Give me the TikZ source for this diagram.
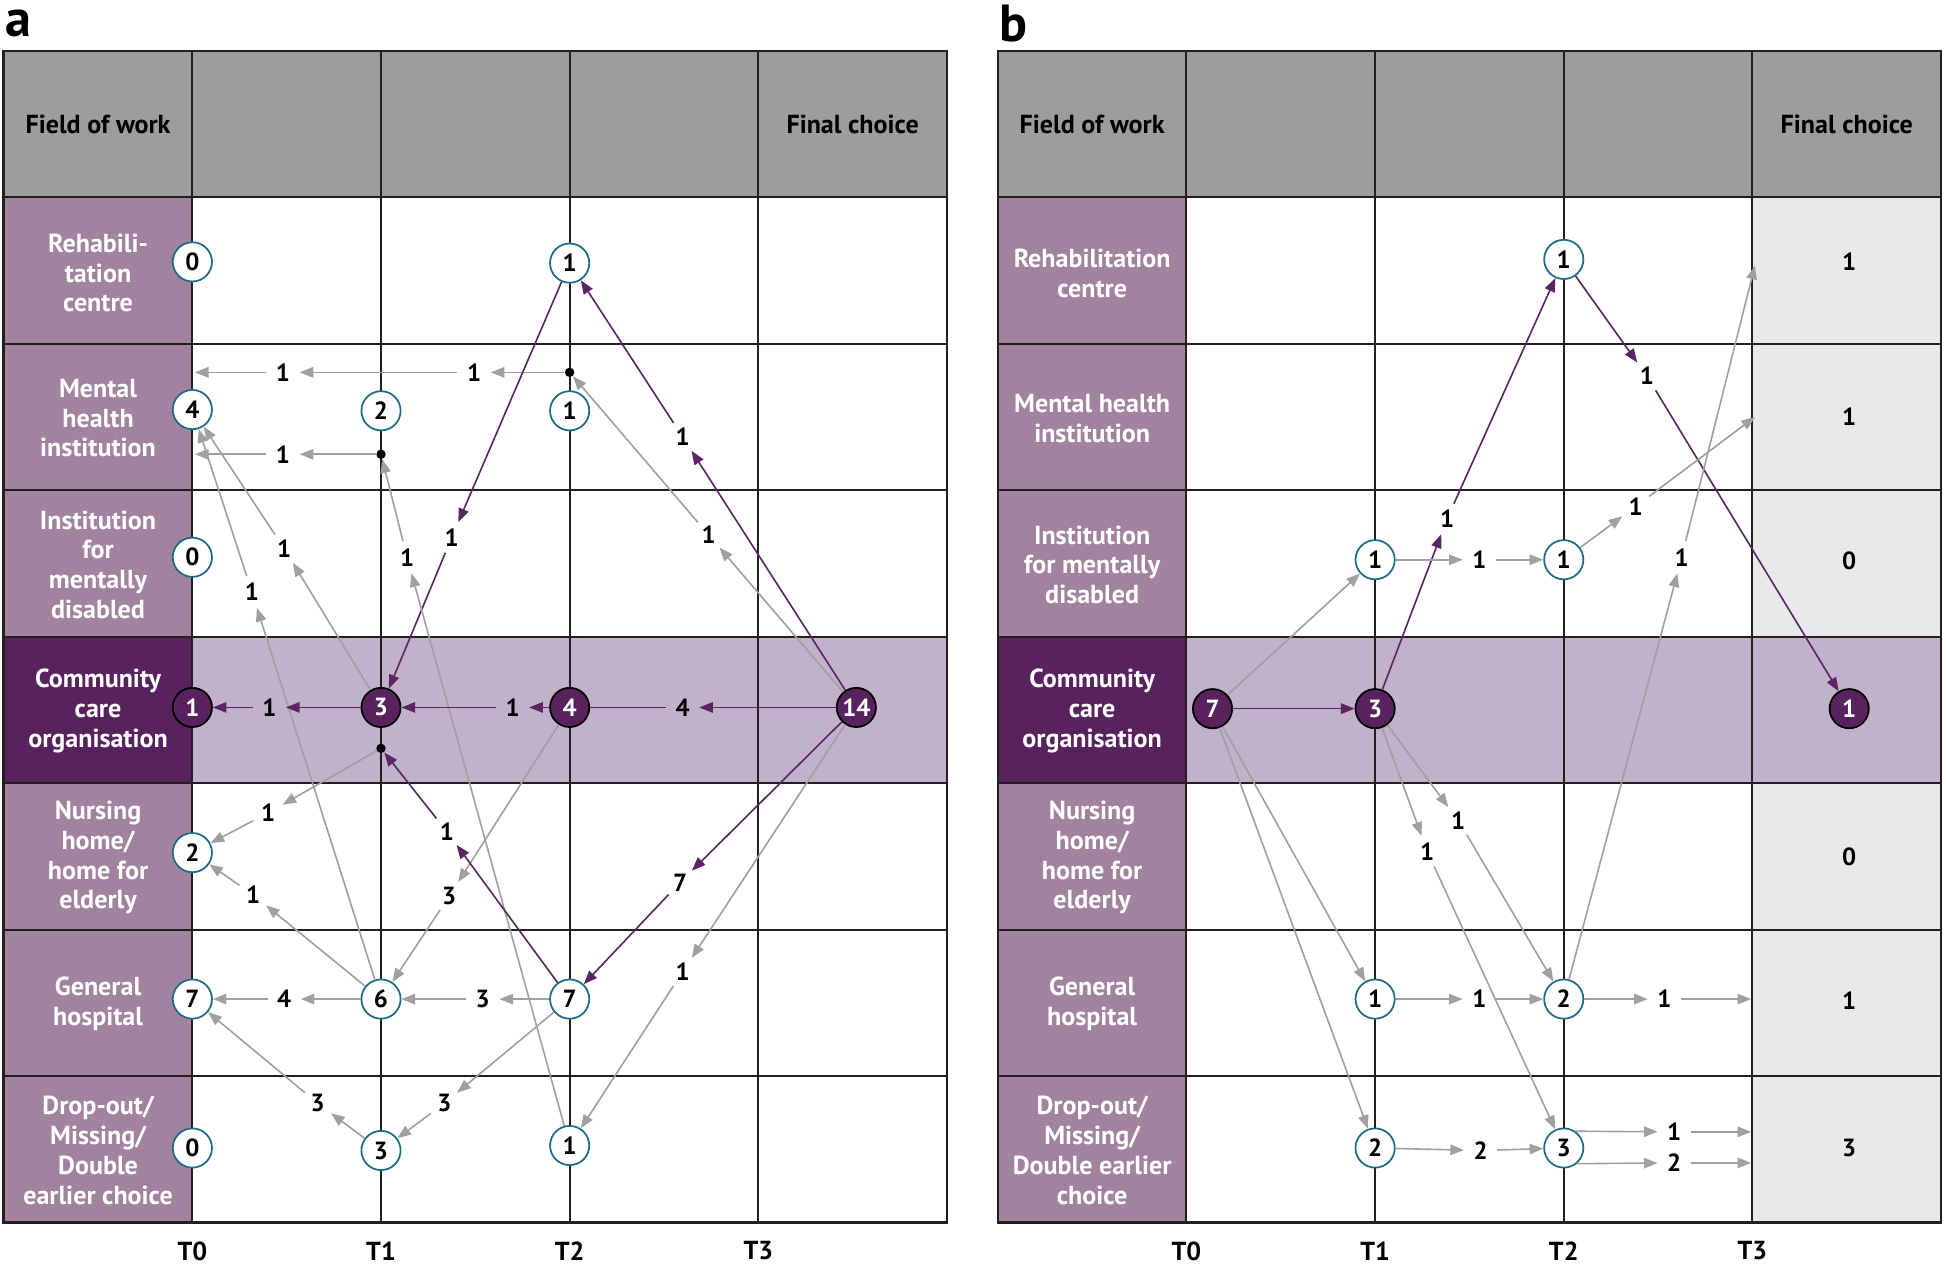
\documentclass[tikz,border=0pt]{standalone}
\usepackage{fontspec}
\setmainfont{PT Sans}
\usetikzlibrary{arrows.meta}
\definecolor{hdrc}{HTML}{9D9D9E}
\definecolor{mauvec}{HTML}{A1829F}
\definecolor{darkc}{HTML}{57225D}
\definecolor{lightpc}{HTML}{C1B1CA}
\definecolor{lgreyc}{HTML}{E9E9EC}
\definecolor{tealc}{HTML}{1C6C88}
\definecolor{greyc}{HTML}{A0A0A0}
\definecolor{purpc}{HTML}{5B2464}
\definecolor{gridc}{HTML}{231F20}
\newcommand\myrowfont{\fontsize{10.5}{12}\selectfont\bfseries}
\newcommand\mynumfont{\fontsize{10}{11}\selectfont\bfseries}
\begin{document}
\begin{tikzpicture}[x=0.5pt,y=-0.5pt,
  wn/.style={circle,draw=tealc,line width=0.7pt,fill=white,minimum size=15.8pt,inner sep=0pt,font=\mynumfont},
  dn/.style={circle,draw=black,line width=0.7pt,fill=darkc,text=white,minimum size=15.8pt,inner sep=0pt,font=\mynumfont},
  lab/.style={circle,minimum size=13pt,inner sep=0pt,font=\mynumfont},
  fin/.style={inner sep=0pt,font=\mynumfont},
  jn/.style={circle,fill=black,minimum size=3.8pt,inner sep=0pt},
  ga/.style={draw=greyc,line width=0.65pt,-{Triangle[length=5.5pt,width=4.2pt]}},
  pa/.style={draw=purpc,line width=0.65pt,-{Triangle[length=5.5pt,width=4.2pt]}},
  pl/.style={draw=purpc,line width=0.65pt},
  rowlab/.style={text=white,align=center,font=\myrowfont,inner sep=0pt},
  hdrlab/.style={text=black,align=center,font=\myrowfont,inner sep=0pt},
  axlab/.style={text=black,font=\myrowfont,inner sep=0pt},
  panlab/.style={text=black,font=\fontsize{21}{24}\selectfont\bfseries,inner sep=0pt},
  gridline/.style={draw=gridc,line width=0.8pt}
]
\useasboundingbox (0,0) rectangle (1568,1018.5);

% ---------------- Panel a background ----------------
\fill[hdrc] (3,41) rectangle (763,159);
\fill[mauvec] (3,159) rectangle (155,985);
\fill[darkc] (3,513) rectangle (155,631);
\fill[lightpc] (155,513) rectangle (763,631);
\foreach \y in {159,277,395,513,631,749,867} \draw[gridline] (3,\y) -- (763,\y);
\foreach \x in {155,307,459,611} \draw[gridline] (\x,41) -- (\x,985);
\draw[gridline,line width=1pt] (3,41) rectangle (763,985);

% ---------------- Panel b background ----------------
\fill[hdrc] (804,41) rectangle (1564,159);
\fill[mauvec] (804,159) rectangle (956,985);
\fill[lgreyc] (1412,159) rectangle (1564,985);
\fill[darkc] (804,513) rectangle (956,631);
\fill[lightpc] (956,513) rectangle (1564,631);
\foreach \y in {159,277,395,513,631,749,867} \draw[gridline] (804,\y) -- (1564,\y);
\foreach \x in {956,1108,1260,1412} \draw[gridline] (\x,41) -- (\x,985);
\draw[gridline,line width=1pt] (804,41) rectangle (1564,985);

% ---------------- panel letters, headers, axes ----------------
\node[panlab] (pa) at (15,19) {a};
\node[panlab] (pb) at (817,19) {b};
\node[hdrlab] (ha1) at (79,100) {Field of work};
\node[hdrlab] (ha2) at (687,100) {Final choice};
\node[hdrlab] (hb1) at (880,100) {Field of work};
\node[hdrlab] (hb2) at (1488,100) {Final choice};
\foreach \t/\x in {0/155,1/307,2/459,3/611} \node[axlab] (axa\t) at (\x,1008) {T\t};
\foreach \t/\x in {0/956,1/1108,2/1260,3/1412} \node[axlab] (axb\t) at (\x,1008) {T\t};

% ---------------- row labels ----------------
\node[rowlab] (ra1) at (79,220) {Rehabili-\\tation\\centre};
\node[rowlab] (ra2) at (79,337) {Mental\\health\\institution};
\node[rowlab] (ra3) at (79,455) {Institution\\for\\mentally\\disabled};
\node[rowlab] (ra4) at (79,573) {Community\\care\\organisation};
\node[rowlab] (ra5) at (79,691) {Nursing\\home/\\home for\\elderly};
\node[rowlab] (ra6) at (79,809) {General\\hospital};
\node[rowlab] (ra7) at (79,927) {Drop-out/\\Missing/\\Double\\earlier choice};

\node[rowlab] (rb1) at (880,220) {Rehabilitation\\centre};
\node[rowlab] (rb2) at (880,337) {Mental health\\institution};
\node[rowlab] (rb3) at (880,455) {Institution\\for mentally\\disabled};
\node[rowlab] (rb4) at (880,573) {Community\\care\\organisation};
\node[rowlab] (rb5) at (880,691) {Nursing\\home/\\home for\\elderly};
\node[rowlab] (rb6) at (880,809) {General\\hospital};
\node[rowlab] (rb7) at (880,927) {Drop-out/\\Missing/\\Double earlier\\choice};

% ---------------- Panel a nodes ----------------
\node[wn] (a0r) at (155,211) {0};
\node[wn] (a0m) at (155,330) {4};
\node[wn] (a0i) at (155,449) {0};
\node[dn] (a0c) at (155,570) {1};
\node[wn] (a0n) at (155,687) {2};
\node[wn] (a0g) at (155,805) {7};
\node[wn] (a0d) at (155,925) {0};
\node[wn] (a1m) at (307,331) {2};
\node[dn] (a1c) at (307,570) {3};
\node[wn] (a1g) at (307,805) {6};
\node[wn] (a1d) at (307,927) {3};
\node[wn] (a2r) at (459,212) {1};
\node[wn] (a2m) at (459,331) {1};
\node[dn] (a2c) at (459,570) {4};
\node[wn] (a2g) at (459,805) {7};
\node[wn] (a2d) at (459,923) {1};
\node[dn] (a14) at (690,570) {14};
\node[jn] (ja) at (459,300) {};
\node[jn] (jb) at (307,366) {};
\node[jn] (jc) at (307,603) {};
\coordinate (ma1) at (157,300);
\coordinate (ma2) at (157,366);

% labels panel a
\node[lab] (L1) at (382,300) {1};
\node[lab] (L2) at (228,300) {1};
\node[lab] (L3) at (228,366) {1};
\node[lab] (L4) at (571,431) {1};
\node[lab] (L5) at (550,352) {1};
\node[lab] (L6) at (364,433) {1};
\node[lab] (L7) at (328,449) {1};
\node[lab] (L8) at (203,477) {1};
\node[lab] (L9) at (229,442) {1};
\node[lab] (L10) at (362,722) {3};
\node[lab] (L11) at (360,670) {1};
\node[lab] (L12) at (216,655) {1};
\node[lab] (L13) at (204,721) {1};
\node[lab] (L14) at (229,805) {4};
\node[lab] (L15) at (389,805) {3};
\node[lab] (L16) at (256,889) {3};
\node[lab] (L17) at (358,889) {3};
\node[lab] (L18) at (548,711) {7};
\node[lab] (L19) at (550,783) {1};
\node[lab] (L20) at (550,570) {4};
\node[lab] (L21) at (413,570) {1};
\node[lab] (L22) at (217,570) {1};

% edges panel a
\draw[ga] (ja) -- (L1); \draw[ga] (L1) -- (L2); \draw[ga] (L2) -- (ma1);
\draw[ga] (jb) -- (L3); \draw[ga] (L3) -- (ma2);
\draw[ga] (a14) -- (L4); \draw[ga] (L4) -- (ja);
\draw[pa] (a14) -- (L5); \draw[pa] (L5) -- (a2r);
\draw[pa] (a2r) -- (L6); \draw[pa] (L6) -- (a1c);
\draw[ga] (a2d) -- (L7); \draw[ga] (L7) -- (jb);
\draw[ga] (a1g) -- (L8); \draw[ga] (L8) -- (a0m);
\draw[ga] (a1c) -- (L9); \draw[ga] (L9) -- (a0m);
\draw[ga] (a2c) -- (L10); \draw[ga] (L10) -- (a1g);
\draw[pa] (a2g) -- (L11); \draw[pa] (L11) -- (jc);
\draw[ga] (jc) -- (L12); \draw[ga] (L12) -- (a0n);
\draw[ga] (a1g) -- (L13); \draw[ga] (L13) -- (a0n);
\draw[ga] (a1g) -- (L14); \draw[ga] (L14) -- (a0g);
\draw[ga] (a2g) -- (L15); \draw[ga] (L15) -- (a1g);
\draw[ga] (a1d) -- (L16); \draw[ga] (L16) -- (a0g);
\draw[ga] (a2g) -- (L17); \draw[ga] (L17) -- (a1d);
\draw[pa] (a14) -- (L18); \draw[pa] (L18) -- (a2g);
\draw[ga] (a14) -- (L19); \draw[ga] (L19) -- (a2d);
\draw[pa] (a14) -- (L20); \draw[pl] (L20) -- (a2c);
\draw[pa] (a2c) -- (L21); \draw[pa] (L21) -- (a1c);
\draw[pa] (a1c) -- (L22); \draw[pa] (L22) -- (a0c);

% ---------------- Panel b nodes ----------------
\node[dn] (b0c) at (977,571) {7};
\node[dn] (b1c) at (1108,571) {3};
\node[dn] (bfc) at (1490,571) {1};
\node[wn] (b1i) at (1108,451) {1};
\node[wn] (b2i) at (1260,451) {1};
\node[wn] (b2r) at (1260,209) {1};
\node[wn] (b1g) at (1108,805) {1};
\node[wn] (b2g) at (1260,805) {2};
\node[wn] (b1d) at (1108,925) {2};
\node[wn] (b2d) at (1260,925) {3};
\node[fin] (fr) at (1490,211) {1};
\node[fin] (fm) at (1490,336) {1};
\node[fin] (fi) at (1490,452) {0};
\node[fin] (fn) at (1490,690) {0};
\node[fin] (fg) at (1490,806) {1};
\node[fin] (fd) at (1490,925) {3};
\coordinate (fm1) at (1414,336);
\coordinate (fr1) at (1414,214);
\coordinate (fg1) at (1411,805);
\coordinate (fd1) at (1411,912);
\coordinate (fd2) at (1411,937);

% labels panel b
\node[lab] (M1) at (1166,418) {1};
\node[lab] (M2) at (1327,303) {1};
\node[lab] (M3) at (1192,451) {1};
\node[lab] (M4) at (1318,408) {1};
\node[lab] (M5) at (1355,449) {1};
\node[lab] (M6) at (1175,661) {1};
\node[lab] (M7) at (1150,686) {1};
\node[lab] (M8) at (1192,805) {1};
\node[lab] (M9) at (1341,805) {1};
\node[lab] (M10) at (1193,927) {2};
\node[lab] (M11) at (1349,912) {1};
\node[lab] (M12) at (1349,937) {2};

% edges panel b
\draw[pa] (b0c) -- (b1c);
\draw[ga] (b0c) -- (b1i);
\draw[pa] (b1c) -- (M1); \draw[pa] (M1) -- (b2r);
\draw[pa] (b2r) -- (M2); \draw[pa] (M2) -- (bfc);
\draw[ga] (b1i) -- (M3); \draw[ga] (M3) -- (b2i);
\draw[ga] (b2i) -- (M4); \draw[ga] (M4) -- (fm1);
\draw[ga] (b2g) -- (M5); \draw[ga] (M5) -- (fr1);
\draw[ga] (b1c) -- (M6); \draw[ga] (M6) -- (b2g);
\draw[ga] (b1c) -- (M7); \draw[ga] (M7) -- (b2d);
\draw[ga] (b0c) -- (b1g);
\draw[ga] (b0c) -- (b1d);
\draw[ga] (b1g) -- (M8); \draw[ga] (M8) -- (b2g);
\draw[ga] (b2g) -- (M9); \draw[ga] (M9) -- (fg1);
\draw[ga] (b1d) -- (M10); \draw[ga] (M10) -- (b2d);
\draw[ga] (b2d.55) -- (M11); \draw[ga] (M11) -- (fd1);
\draw[ga] (b2d.-50) -- (M12); \draw[ga] (M12) -- (fd2);
\end{tikzpicture}
\end{document}
